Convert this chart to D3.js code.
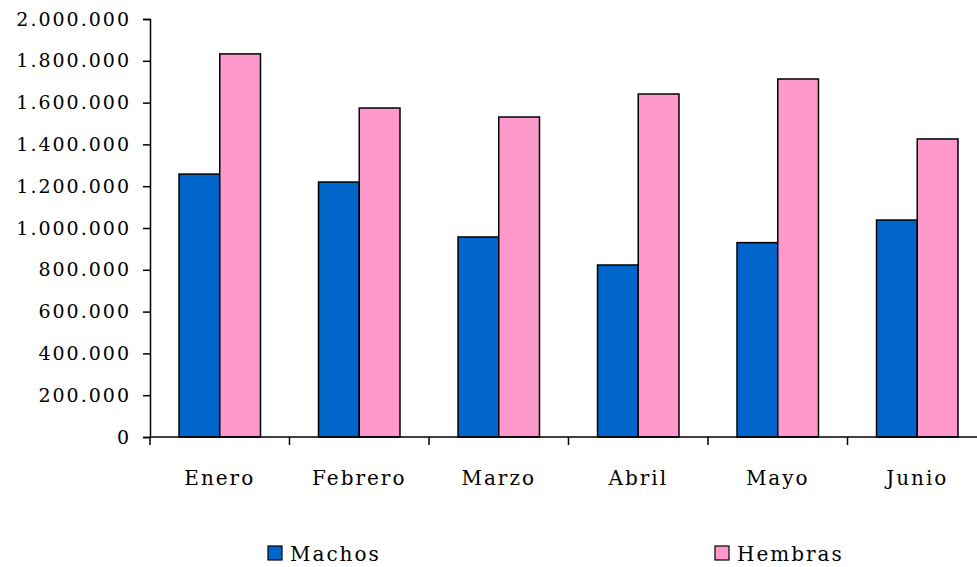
<!DOCTYPE html>
<html>
<head>
<meta charset="utf-8">
<script src="https://cdn.jsdelivr.net/npm/d3@7"></script>
<style>
  body { margin: 0; background: #fff; }
  text { font-family: "DejaVu Serif", serif; fill: #000; }
</style>
</head>
<body>
<svg id="chart" width="977" height="567"></svg>
<script>
// data
var months = ["Enero", "Febrero", "Marzo", "Abril", "Mayo", "Junio"];
var series = ["Machos", "Hembras"];
var machos = [1258000, 1220000, 957000, 823000, 930000, 1038000];
var hembras = [1833000, 1574000, 1531000, 1641000, 1713000, 1426000];
var yTicks = [0, 200000, 400000, 600000, 800000, 1000000, 1200000, 1400000, 1600000, 1800000, 2000000];
var colors = ["#0066CC", "#FF99CC"];

var svg = d3.select("#chart"),
    plotLeft = 150, plotTop = 19, plotBottom = 437, bandW = 139.5;

var x0 = d3.scaleBand()
    .domain(months)
    .range([plotLeft, plotLeft + bandW * months.length]);
var x1 = d3.scaleBand()
    .domain(series)
    .range([x0.bandwidth() * 0.208, x0.bandwidth() * 0.792]);
var y = d3.scaleLinear()
    .domain([0, 2000000])
    .range([plotBottom, plotTop]);

var fmt = function(d) {
    return d3.format(",")(d).replace(/,/g, ".");
};

var rows = months.map(function(m, i) {
    return { month: m, values: [machos[i], hembras[i]] };
});

// bars
var groups = svg.append("g").selectAll("g")
    .data(rows).enter()
    .append("g")
    .attr("transform", function(d) { return "translate(" + x0(d.month) + ",0)"; });

groups.selectAll("rect")
    .data(function(d) { return d.values.map(function(v, j) { return { s: series[j], v: v, c: colors[j] }; }); })
    .enter().append("rect")
    .attr("x", function(d) { return x1(d.s); })
    .attr("width", x1.bandwidth())
    .attr("y", function(d) { return y(d.v); })
    .attr("height", function(d) { return plotBottom - y(d.v); })
    .attr("fill", function(d) { return d.c; })
    .attr("stroke", "#000")
    .attr("stroke-width", 1.5);

// y axis
var yAxis = svg.append("g")
    .attr("transform", "translate(" + plotLeft + ",0)")
    .call(d3.axisLeft(y).tickValues(yTicks).tickFormat(fmt).tickSize(7).tickPadding(12));
yAxis.select(".domain").attr("stroke", "#000").attr("stroke-width", 1.5);
yAxis.selectAll(".tick line").attr("stroke", "#000").attr("stroke-width", 1.5);
yAxis.selectAll("text")
    .style("font-family", "DejaVu Serif")
    .style("font-size", "19px")
    .style("letter-spacing", "2px")
    .attr("fill", "#000");

// x axis
var xAxis = svg.append("g")
    .attr("transform", "translate(0," + plotBottom + ")");
xAxis.append("line")
    .attr("x1", plotLeft).attr("x2", 977)
    .attr("stroke", "#000").attr("stroke-width", 1.5);
xAxis.selectAll(".xt")
    .data(months.concat(["end"])).enter()
    .append("line")
    .attr("class", "xt")
    .attr("x1", function(d, i) { return plotLeft + i * x0.step(); })
    .attr("x2", function(d, i) { return plotLeft + i * x0.step(); })
    .attr("y1", 0).attr("y2", 8)
    .attr("stroke", "#000").attr("stroke-width", 1.5);
xAxis.selectAll(".xl")
    .data(months).enter()
    .append("text")
    .attr("class", "xl")
    .attr("x", function(d) { return x0(d) + x0.bandwidth() / 2; })
    .attr("y", 48)
    .attr("text-anchor", "middle")
    .style("font-size", "20px")
    .style("letter-spacing", "2px")
    .text(function(d) { return d; });

// legend
var legendX = [268, 715];
var legend = svg.append("g").selectAll("g")
    .data(series).enter()
    .append("g")
    .attr("transform", function(d, i) { return "translate(" + legendX[i] + ",546)"; });
legend.append("rect")
    .attr("width", 14).attr("height", 14)
    .attr("fill", function(d, i) { return colors[i]; })
    .attr("stroke", "#000").attr("stroke-width", 1.2);
legend.append("text")
    .attr("x", 22).attr("y", 15)
    .style("font-size", "20px")
    .style("letter-spacing", "2px")
    .text(function(d) { return d; });
</script>
</body>
</html>
